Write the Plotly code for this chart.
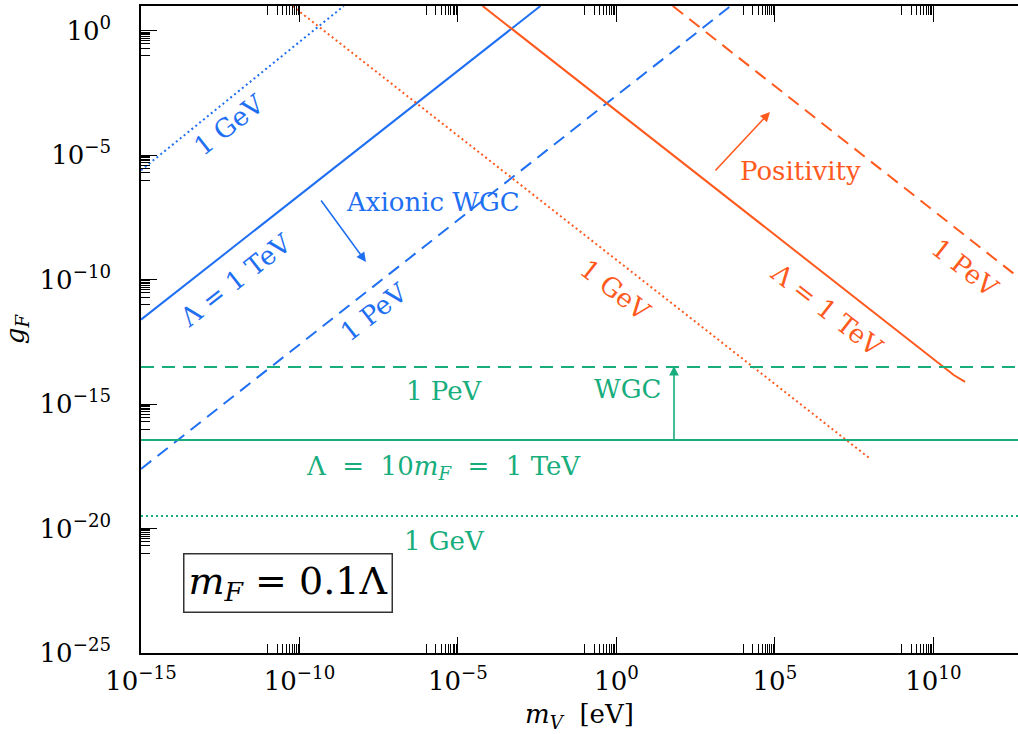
import plotly.graph_objects as go

# ---------------- data ----------------
# Axionic WGC lines (blue), m_V [eV] vs g_F
axion_TeV_mV = [1e-15, 4.0e-3]
axion_TeV_gF = [2.5e-12, 1.0e1]
axion_PeV_mV = [1e-15, 4.0e3]
axion_PeV_gF = [2.5e-18, 1.0e1]
axion_GeV_mV = [1e-15, 2.5e-9]
axion_GeV_gF = [2.5e-6, 1.0e1]

# Positivity lines (orange)
pos_TeV_mV = [6.0e-5, 1.9e10, 4.5e10, 1.0e11]
pos_TeV_gF = [1.0e1, 3.2e-14, 1.45e-14, 7.8e-15]
pos_PeV_mV = [6.0e1, 1.0e13]
pos_PeV_gF = [1.0e1, 6.0e-11]
pos_GeV_mV = [6.0e-11, 1.0e8]
pos_GeV_gF = [1.0e1, 6.5e-18]

# WGC lines (green, horizontal)
wgc_mV = [1e-15, 1e13]
wgc_TeV_gF = [3.6e-17, 3.6e-17]
wgc_PeV_gF = [3.1e-14, 3.1e-14]
wgc_GeV_gF = [3.2e-20, 3.2e-20]

x_tickvals = [1e-15, 1e-10, 1e-5, 1e0, 1e5, 1e10]
x_ticktext = ["10<sup>−15</sup>", "10<sup>−10</sup>", "10<sup>−5</sup>",
              "10<sup>0</sup>", "10<sup>5</sup>", "10<sup>10</sup>"]
y_tickvals = [1e-25, 1e-20, 1e-15, 1e-10, 1e-5, 1e0]
y_ticktext = ["10<sup>−25</sup>", "10<sup>−20</sup>", "10<sup>−15</sup>",
              "10<sup>−10</sup>", "10<sup>−5</sup>", "10<sup>0</sup>"]

BLUE = "#1f6ff2"
ORANGE = "#ff5a1e"
GREEN = "#17ad7c"
FONT = "DejaVu Serif"

W, H = 1018, 734
ML, MR, MT, MB = 141, 0, 6, 81
PW, PH = W - ML - MR, H - MT - MB

DASH = "13px,8px"
DOT = "2px,3px"

fig = go.Figure()

def line(x, y, color, dash):
    fig.add_trace(go.Scatter(x=x, y=y, mode="lines",
                             line=dict(color=color, width=2, dash=dash),
                             showlegend=False, hoverinfo="skip"))

line(axion_TeV_mV, axion_TeV_gF, BLUE, "solid")
line(axion_PeV_mV, axion_PeV_gF, BLUE, DASH)
line(axion_GeV_mV, axion_GeV_gF, BLUE, DOT)
line(pos_TeV_mV, pos_TeV_gF, ORANGE, "solid")
line(pos_PeV_mV, pos_PeV_gF, ORANGE, DASH)
line(pos_GeV_mV, pos_GeV_gF, ORANGE, DOT)
line(wgc_mV, wgc_TeV_gF, GREEN, "solid")
line(wgc_mV, wgc_PeV_gF, GREEN, DASH)
line(wgc_mV, wgc_GeV_gF, GREEN, DOT)

def px(X):
    return (X - ML) / PW

def py(Y):
    return (MT + PH - Y) / PH

def label(X, Y, text, color, size=26, angle=0):
    fig.add_annotation(x=px(X), y=py(Y), xref="paper", yref="paper",
                       text=text, showarrow=False, textangle=angle,
                       font=dict(family=FONT, size=size, color=color),
                       xanchor="center", yanchor="middle")

def arrow(X0, Y0, X1, Y1, color):
    fig.add_annotation(x=px(X1), y=py(Y1), xref="paper", yref="paper",
                       ax=X0 - X1, ay=Y0 - Y1, text="", showarrow=True,
                       arrowhead=2, arrowsize=1.2, arrowwidth=1.6,
                       arrowcolor=color)

ANG = 38
S = 26
label(229, 125, "1 GeV", BLUE, S, -ANG)
label(236, 280, "Λ = 1 TeV", BLUE, S, -ANG)
label(374, 312, "1 PeV", BLUE, S, -ANG)
label(433, 202, "Axionic WGC", BLUE, S)
arrow(320, 199, 366, 262, BLUE)

label(800, 171, "Positivity", ORANGE, S)
arrow(714, 172, 770, 112, ORANGE)
label(615, 290, "1 GeV", ORANGE, S, ANG)
label(827, 310, "Λ = 1 TeV", ORANGE, S, ANG)
label(965, 268, "1 PeV", ORANGE, S, ANG)

label(444, 391, "1 PeV", GREEN, S)
label(627, 389, "WGC", GREEN, S)
arrow(674, 441, 674, 366, GREEN)
label(443, 467, "Λ&nbsp;&nbsp;=&nbsp;&nbsp;10<i>m</i><sub><i>F</i></sub>&nbsp;&nbsp;=&nbsp;&nbsp;1 TeV", GREEN, S)
label(444, 541, "1 GeV", GREEN, S)

fig.add_annotation(x=px(288), y=py(583), xref="paper", yref="paper",
                   text="<i>m</i><sub><i>F</i></sub> = 0.1Λ", showarrow=False,
                   font=dict(family=FONT, size=38, color="black"),
                   bordercolor="#333333", borderwidth=1.5, borderpad=4,
                   bgcolor="white", xanchor="center", yanchor="middle")

def minor_vals(majors):
    vals = []
    for m in majors:
        for k in range(1, 10):
            vals.append(k * m / 10)
    return vals

x_minor = minor_vals([1e-10, 1e-5, 1e0, 1e5, 1e10])
y_minor = minor_vals([1e-20, 1e-15, 1e-10, 1e-5, 1e0])

fig.update_xaxes(type="log", range=[-15, 12.67], automargin=False,
                 tickmode="array", tickvals=x_tickvals, ticktext=x_ticktext,
                 ticks="inside", ticklen=16, tickwidth=1, tickcolor="black",
                 ticklabelstandoff=4,
                 minor=dict(tickmode="array", tickvals=x_minor, ticks="inside",
                            ticklen=9, tickwidth=1, tickcolor="black", showgrid=False),
                 showline=True, linecolor="black", linewidth=1.5, mirror="ticks",
                 showgrid=False, zeroline=False,
                 tickfont=dict(family=FONT, size=26, color="black"),
                 title=dict(text="<i>m</i><sub><i>V</i></sub>  [eV]",
                            font=dict(family=FONT, size=26, color="black"),
                            standoff=10))
fig.update_yaxes(type="log", range=[-25, 1], automargin=False,
                 tickmode="array", tickvals=y_tickvals, ticktext=y_ticktext,
                 ticks="inside", ticklen=16, tickwidth=1, tickcolor="black",
                 ticklabelstandoff=23,
                 minor=dict(tickmode="array", tickvals=y_minor, ticks="inside",
                            ticklen=9, tickwidth=1, tickcolor="black", showgrid=False),
                 showline=True, linecolor="black", linewidth=1.5, mirror=True,
                 showgrid=False, zeroline=False,
                 tickfont=dict(family=FONT, size=26, color="black"),
                 title=dict(text="<i>g</i><sub><i>F</i></sub>",
                            font=dict(family=FONT, size=26, color="black"),
                            standoff=13))

fig.update_layout(width=W, height=H, margin=dict(l=ML, r=MR, t=MT, b=MB),
                  plot_bgcolor="white", paper_bgcolor="white", showlegend=False)

fig.write_html("out.html", config={"displayModeBar": False},
               post_script="document.body.style.margin='0';document.body.style.overflow='hidden';")
